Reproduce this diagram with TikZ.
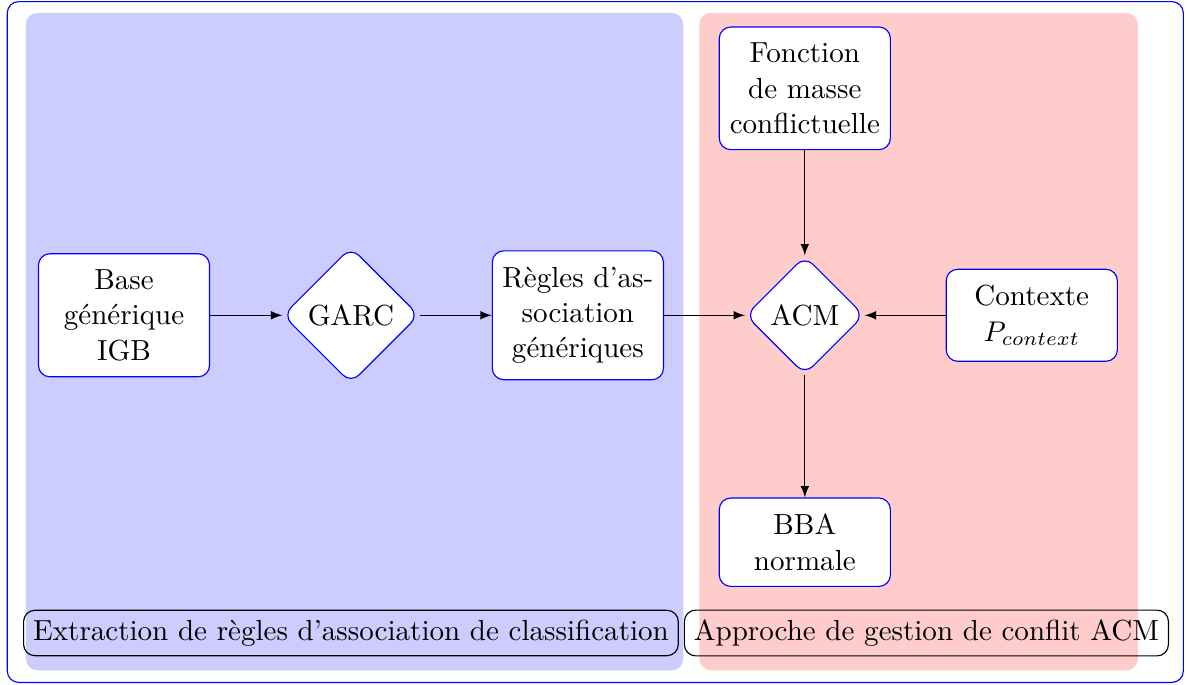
\documentclass[tikz,border=0pt]{standalone}
\usepackage{fontspec}
\usetikzlibrary{shapes.geometric, arrows, positioning}

\begin{document}
\begin{tikzpicture}[>=latex, node distance=2.8cm, on grid,
    font=\fontsize{10.2}{12.4}\selectfont,
    bloc/.style={rectangle, draw=blue, fill=white, rounded corners, text width=1.9cm, inner xsep=3pt, inner ysep=5.6pt, align=center},
    choix/.style={diamond, aspect=1, draw=blue, fill=white, rounded corners, inner sep=2.5pt},
    titre/.style={rectangle, draw=black, rounded corners}]
    \useasboundingbox (-1.53,3.89) rectangle (13.14,-4.55);

    % fonds des deux parties
    \draw[blue, rounded corners] (-1.44,3.87) rectangle (13.07,-4.53);
    \fill[blue!20, rounded corners] (-1.21,3.73) rectangle (6.90,-4.38);
    \fill[red!20, rounded corners] (7.10,3.73) rectangle (12.51,-4.38);

    % chaine principale
    \node[bloc] (igb) at (0,0) {Base\\générique\\IGB};
    \node[choix, right=of igb] (garc) {GARC};
    \node[bloc, right=of garc] (regles) {Règles d'as-\\sociation\\génériques};
    \node[choix, right=of regles] (acm) {ACM};
    \node[bloc, right=of acm] (contexte) {Contexte\\$P_{context}$};
    \node[bloc, above=of acm] (masse) {Fonction\\de masse\\conflictuelle};
    \node[bloc, below=of acm] (bba) {BBA\\normale};

    \draw[->] (igb) -- (garc);
    \draw[->] (garc) -- (regles);
    \draw[->] (regles) -- (acm);
    \draw[->] (contexte) -- (acm);
    \draw[->] (masse) -- (acm);
    \draw[->] (acm) -- (bba);

    % titres
    \node[titre] (extraction) at (2.8,-3.92) {Extraction de règles d'association de classification};
    \node[titre] (approche) at (9.9,-3.92) {Approche de gestion de conflit ACM};
\end{tikzpicture}
\end{document}
